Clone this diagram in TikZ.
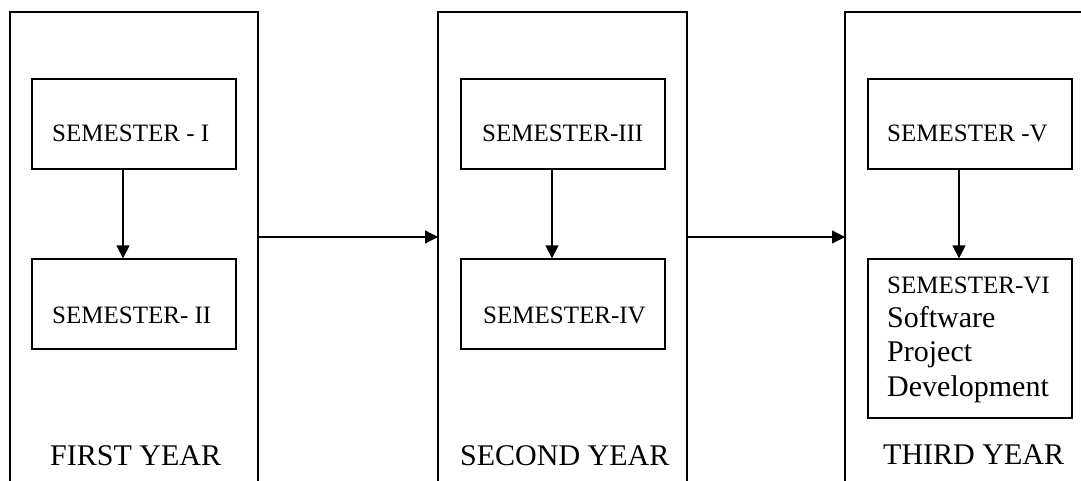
\documentclass[tikz,border=0pt]{standalone}
\usepackage{fontspec}
\setmainfont{Liberation Serif}
\usetikzlibrary{arrows.meta}
\begin{document}
\begin{tikzpicture}[x=1pt,y=-1pt,
  frame/.style={line width=1.3pt},
  sembox/.style={draw,line width=1.3pt,minimum width=204pt,minimum height=90pt,inner sep=0pt},
  semtxt/.style={anchor=base west,inner sep=0pt,font=\fontsize{25}{30}\selectfont},
  bigtxt/.style={anchor=base west,inner sep=0pt,font=\fontsize{30}{35}\selectfont},
  arr/.style={line width=1.3pt,-{Triangle[length=13pt,width=13pt]}}]
\useasboundingbox[fill=white] (0,0) rectangle (1081,481);

% year frames (open at the bottom)
\draw[frame] (10,481) -- (10,12) -- (258,12) -- (258,481);
\draw[frame] (438,481) -- (438,12) -- (687,12) -- (687,481);
\draw[frame] (845,481) -- (845,12) -- (1081,12);
\coordinate (f1r) at (258,237);
\coordinate (f2l) at (438,237);
\coordinate (f2r) at (687,237);
\coordinate (f3l) at (845,237);

% semester boxes
\node[sembox] (s1) at (134,124) {};
\node[sembox] (s2) at (134,304) {};
\node[sembox] (s3) at (563,124) {};
\node[sembox] (s4) at (563,304) {};
\node[sembox] (s5) at (970,124) {};
\node[sembox,minimum height=159pt] (s6) at (970,338.5) {};

% texts
\node[semtxt] (t1) at (52,142) {SEMESTER - I};
\node[semtxt] (t2) at (52,323) {SEMESTER- II};
\node[semtxt] (t3) at (482,142) {SEMESTER-III};
\node[semtxt] (t4) at (483,323) {SEMESTER-IV};
\node[semtxt] (t5) at (887,142) {SEMESTER -V};
\node[semtxt] (t6) at (887,293) {SEMESTER-VI};
\node[bigtxt] (t6a) at (887,327) {Software};
\node[bigtxt] (t6b) at (887,361) {Project};
\node[bigtxt] (t6c) at (887,396) {Development};

\node[bigtxt] (y1) at (50,465) {FIRST YEAR};
\node[bigtxt] (y2) at (460,465) {SECOND YEAR};
\node[bigtxt] (y3) at (883,464) {THIRD YEAR};

% arrows
\draw[arr] ([xshift=-11pt]s1.south) -- ([xshift=-11pt]s2.north);
\draw[arr] ([xshift=-11pt]s3.south) -- ([xshift=-11pt]s4.north);
\draw[arr] ([xshift=-11pt]s5.south) -- ([xshift=-11pt]s6.north);
\draw[arr] (f1r) -- (f2l);
\draw[arr] (f2r) -- (f3l);
\end{tikzpicture}
\end{document}
